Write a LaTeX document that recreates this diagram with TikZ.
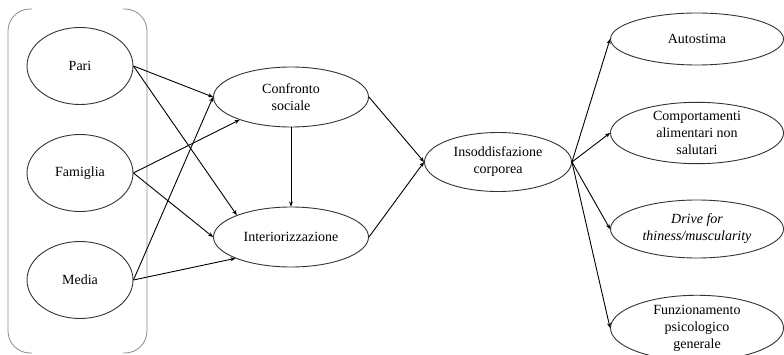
\documentclass[tikz,border=0pt]{standalone}
\usepackage{fontspec}
\setmainfont{Liberation Serif}
\usetikzlibrary{shapes.geometric,arrows.meta}
\newcommand{\colR}{697}

\begin{document}
\begin{tikzpicture}[x=1pt,y=-1pt,
    ell/.style={draw=black!80, ellipse, line width=0.9pt, inner sep=0pt, align=center, font=\fontsize{14}{17}\selectfont},
    src/.style={ell, minimum width=106pt, minimum height=77pt},
    mid/.style={ell, minimum width=155pt, minimum height=60pt},
    res/.style={ell, minimum width=173pt, minimum height=56pt},
    arr/.style={-{Stealth[length=5pt,width=4pt]}, line width=0.9pt}]
    \useasboundingbox (0,0) rectangle (784,355);

    % Bracket round the three sources
    \draw[black!45, line width=0.8pt, rounded corners=22pt] (32,9) -- (8,9) -- (8,353) -- (32,353);
    \draw[black!45, line width=0.8pt, rounded corners=22pt] (123,9) -- (147,9) -- (147,353) -- (123,353);

    % Sources
    \node[src] (pari) at (80,66) {Pari};
    \node[src] (famiglia) at (80,173) {Famiglia};
    \node[src] (media) at (80,280) {Media};

    % Mediators
    \node[mid] (confronto) at (291,97) {Confronto\\sociale};
    \node[mid] (interior) at (291,237) {Interiorizzazione};
    \node[ell, minimum width=147pt, minimum height=59pt] (insodd) at (498,162) {Insoddisfazione\\corporea};

    % Outcomes
    \node[res, minimum height=52pt] (autostima) at (\colR,39) {Autostima};
    \node[res, minimum height=61pt] (comport) at (\colR,133) {Comportamenti\\alimentari non\\salutari};
    \node[res, minimum height=58pt] (drive) at (\colR,229) {\itshape Drive for\\\itshape thiness/muscularity};
    \node[res, minimum height=54pt] (funz) at (\colR,328) {Funzionamento\\psicologico\\generale};

    % Arrows
    \draw[arr] (pari.east) -- (confronto.west);
    \draw[arr] (pari.east) -- (interior.158);
    \draw[arr] (famiglia.east) -- (confronto.204);
    \draw[arr] (famiglia.east) -- (interior.west);
    \draw[arr] (media.east) -- (confronto.west);
    \draw[arr] (media.east) -- (interior.201);
    \draw[arr] (confronto.south) -- (interior.north);
    \draw[arr] (confronto.east) -- (insodd.west);
    \draw[arr] (interior.east) -- (insodd.west);
    \foreach \t in {autostima,comport,drive,funz}
        \draw[arr] (insodd.east) -- (\t.west);

\end{tikzpicture}
\end{document}
